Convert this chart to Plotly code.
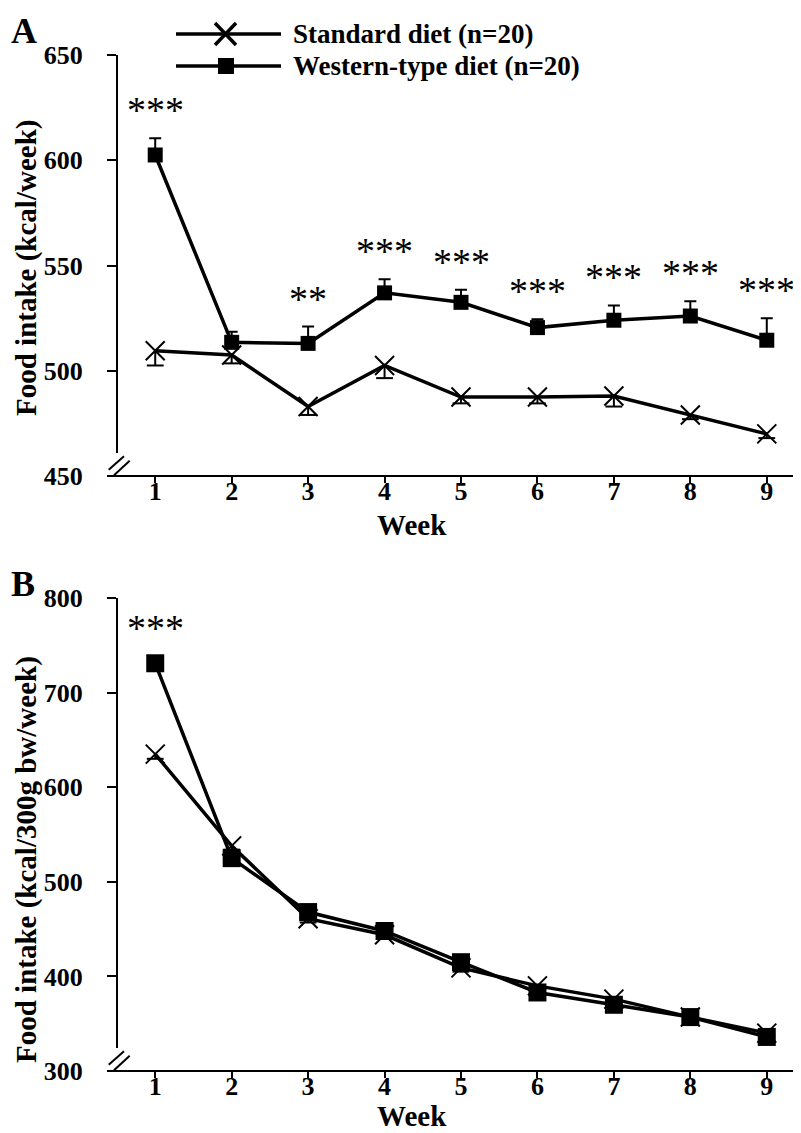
import plotly.graph_objects as go

# ---------------- data ----------------
weeks = [1, 2, 3, 4, 5, 6, 7, 8, 9]

# Panel A: Food intake (kcal/week)
std_A = [509.5, 507.5, 483, 502.5, 487.5, 487.5, 488, 479, 470]
std_A_err = [7, 4, 4, 6, 3, 3, 5, 2, 2]
west_A = [602.5, 513.5, 513, 537, 532.5, 520.5, 524, 526, 514.5]
west_A_err = [8, 5, 8, 6.5, 6, 4, 7, 7, 10.5]
stars_A = ["***", "", "**", "***", "***", "***", "***", "***", "***"]

# Panel B: Food intake (kcal/300g bw/week)
std_B = [635, 538, 461, 444, 409, 390, 376, 357, 340]
std_B_err = [5, 4, 4, 4, 4, 3, 3, 3, 3]
west_B = [731, 525, 468, 448, 415, 383, 370, 357, 336]
west_B_err = [4, 4, 4, 3, 3, 3, 3, 3, 3]
stars_B = ["***", "", "", "", "", "", "", "", ""]

series_names = ["Standard diet (n=20)", "Western-type diet (n=20)"]

# ---------------- layout geometry (pixels) ----------------
W, H = 801, 1133
L, R, T, B = 109, 797, 47, 1063
A_top, A_bot = 47, 468
B_top, B_bot = 590, 1063

def px(x):
    return (x - L) / (R - L)

def py(y):
    return (B - y) / (B - T)

FONT = "Liberation Serif"
LW = 3.5

fig = go.Figure()

def add_panel(std, std_err, west, west_err, xa, ya, msq, mx):
    # standard diet line + downward error bars (no hat at the point)
    fig.add_trace(go.Scatter(
        x=weeks, y=std, xaxis=xa, yaxis=ya, mode="lines+markers",
        line=dict(color="black", width=LW),
        marker=dict(symbol="x-thin", size=mx, color="black",
                    line=dict(color="black", width=2)),
        error_y=dict(type="data", symmetric=False, array=[0] * len(std),
                     arrayminus=std_err, width=0, thickness=2, color="black"),
        showlegend=False, hoverinfo="skip", cliponaxis=False))
    # caps for the downward error bars
    fig.add_trace(go.Scatter(
        x=weeks, y=[v - e for v, e in zip(std, std_err)], xaxis=xa, yaxis=ya,
        mode="markers",
        marker=dict(symbol="line-ew", size=12, color="black",
                    line=dict(color="black", width=2)),
        showlegend=False, hoverinfo="skip", cliponaxis=False))
    # western diet line + upward error bars
    fig.add_trace(go.Scatter(
        x=weeks, y=west, xaxis=xa, yaxis=ya, mode="lines+markers",
        line=dict(color="black", width=LW),
        marker=dict(symbol="square", size=msq, color="black"),
        error_y=dict(type="data", symmetric=False, array=west_err,
                     arrayminus=[0] * len(west), width=6, thickness=2,
                     color="black"),
        showlegend=False, hoverinfo="skip", cliponaxis=False))

add_panel(std_A, std_A_err, west_A, west_A_err, "x", "y", 15, 19)
add_panel(std_B, std_B_err, west_B, west_B_err, "x2", "y2", 18, 19)

STAR_FONT = dict(family=FONT, size=38, color="black")

# significance stars
annotations = []
for w, s, v, e in zip(weeks, stars_A, west_A, west_A_err):
    if s:
        annotations.append(dict(x=w, y=v + e, xref="x", yref="y", text=s,
                                showarrow=False, yanchor="middle", yshift=28,
                                font=STAR_FONT))
for w, s, v, e in zip(weeks, stars_B, west_B, west_B_err):
    if s:
        annotations.append(dict(x=w, y=v + e, xref="x2", yref="y2", text=s,
                                showarrow=False, yanchor="middle", yshift=31,
                                font=STAR_FONT))

tick_font = dict(family=FONT, size=26, color="black", weight="bold")
legend_font = dict(family=FONT, size=27, color="black", weight="bold")
title_font = dict(family=FONT, size=29, color="black", weight="bold")
panel_font = dict(family=FONT, size=36, color="black", weight="bold")

# panel labels
annotations.append(dict(x=px(1), y=py(1), xref="paper", yref="paper", text="A",
                        showarrow=False, xanchor="left", yanchor="top",
                        font=panel_font))
annotations.append(dict(x=px(1), y=py(554), xref="paper", yref="paper", text="B",
                        showarrow=False, xanchor="left", yanchor="top",
                        font=panel_font))

# axis titles
annotations.append(dict(x=px(18), y=py(260), xref="paper", yref="paper",
                        text="Food intake (kcal/week)", textangle=-90,
                        showarrow=False, xanchor="center", yanchor="middle",
                        font=title_font))
annotations.append(dict(x=px(18), y=py(852), xref="paper", yref="paper",
                        text="Food intake (kcal/300g bw/week)", textangle=-90,
                        showarrow=False, xanchor="center", yanchor="middle",
                        font=title_font))
annotations.append(dict(x=px(404), y=py(517), xref="paper", yref="paper",
                        text="Week", showarrow=False, xanchor="center", yanchor="middle",
                        font=title_font))
annotations.append(dict(x=px(404), y=py(1108), xref="paper", yref="paper",
                        text="Week", showarrow=False, xanchor="center", yanchor="middle",
                        font=title_font))

# legend texts
annotations.append(dict(x=px(283), y=py(26), xref="paper", yref="paper",
                        text=series_names[0], showarrow=False, xanchor="left",
                        yanchor="middle", font=legend_font))
annotations.append(dict(x=px(283), y=py(58), xref="paper", yref="paper",
                        text=series_names[1], showarrow=False, xanchor="left",
                        yanchor="middle", font=legend_font))

# ---------------- shapes: axes with breaks, legend symbols ----------------
shapes = []
def seg(x0, y0, x1, y1, w=2):
    shapes.append(dict(type="line", xref="paper", yref="paper",
                       x0=px(x0), y0=py(y0), x1=px(x1), y1=py(y1),
                       line=dict(color="black", width=w)))

for top, bot in [(A_top, A_bot), (B_top, B_bot)]:
    seg(L, top, L, bot - 23)          # y axis line (broken near bottom)
    seg(100, bot, R, bot)             # x axis line
    seg(R, bot, R, bot + 8)           # end tick
    seg(100.7, bot - 6.3, 116, bot - 19.7)   # break marks
    seg(106, bot - 0.7, 121.7, bot - 15.3)

# legend lines & markers
for yy in (26, 58):
    seg(168, yy, 273, yy, LW)
# X marker
seg(207, 15, 228, 37, 3.5)
seg(207, 37, 228, 15, 3.5)
# square marker
shapes.append(dict(type="rect", xref="paper", yref="paper",
                   x0=px(210), x1=px(226), y0=py(50), y1=py(66),
                   fillcolor="black", line=dict(color="black", width=0)))

axis_common = dict(showgrid=False, zeroline=False, showline=False,
                   ticks="outside", tickcolor="black", tickwidth=2,
                   tickfont=tick_font)

fig.update_layout(
    width=W, height=H,
    margin=dict(l=L, r=W - R, t=T, b=H - B, pad=0),
    plot_bgcolor="white", paper_bgcolor="white",
    showlegend=False,
    xaxis=dict(domain=[0, 1], anchor="y", range=[0.5, 9.5], tickvals=weeks,
               ticklen=6, ticklabelstandoff=-14, **axis_common),
    yaxis=dict(domain=[py(A_bot), py(A_top)], anchor="x", range=[450, 650],
               tickvals=[450, 500, 550, 600, 650], ticklen=9,
               ticklabelstandoff=19, **axis_common),
    xaxis2=dict(domain=[0, 1], anchor="y2", range=[0.5, 9.5], tickvals=weeks,
                ticklen=6, ticklabelstandoff=-14, **axis_common),
    yaxis2=dict(domain=[py(B_bot), py(B_top)], anchor="x2", range=[300, 800],
                tickvals=[300, 400, 500, 600, 700, 800], ticklen=9,
                ticklabelstandoff=19, **axis_common),
    annotations=annotations,
    shapes=shapes,
)

fig.write_html("out.html")
